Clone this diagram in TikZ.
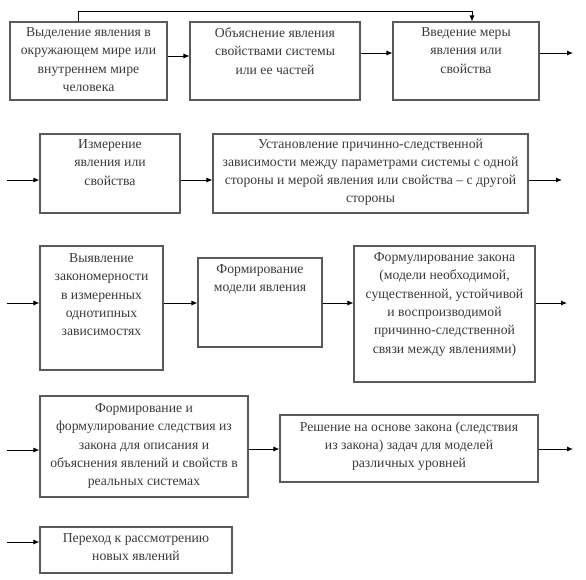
\documentclass[tikz,border=0pt]{standalone}
\usepackage{fontspec}
\setmainfont{Liberation Serif}
\usetikzlibrary{arrows.meta}
\definecolor{boxgray}{HTML}{5A5A5A}
\definecolor{textgray}{HTML}{3A3A3A}
\begin{document}
\begin{tikzpicture}[x=1pt,y=-1pt,
 box/.style={draw=boxgray, line width=1.1pt, inner sep=0pt},
 txt/.style={align=center, font=\fontsize{13.7}{18.3}\selectfont, text=textgray, inner sep=0pt, anchor=north},
 arr/.style={-{Latex[length=6pt,width=5pt]}, line width=0.9pt}]
\useasboundingbox (0,0) rectangle (586,579);
% boxes
\node[box, minimum width=157pt, minimum height=78pt] (b1) at (88.5,61) {};
\node[box, minimum width=170pt, minimum height=78pt] (b2) at (275,61) {};
\node[box, minimum width=146pt, minimum height=78pt] (b3) at (466,61) {};
\node[box, minimum width=140pt, minimum height=79pt] (b4) at (110,173.5) {};
\node[box, minimum width=315pt, minimum height=79pt] (b5) at (370.5,173.5) {};
\node[box, minimum width=123pt, minimum height=124pt] (b6) at (101.5,308) {};
\node[box, minimum width=124pt, minimum height=89pt] (b7) at (260,302.5) {};
\node[box, minimum width=181pt, minimum height=136pt] (b8) at (444.5,314) {};
\node[box, minimum width=208pt, minimum height=101pt] (b9) at (144,446.5) {};
\node[box, minimum width=258pt, minimum height=67pt] (b10) at (409,448.5) {};
\node[box, minimum width=192pt, minimum height=46pt] (b11) at (136,550) {};
% texts
\node[txt] (t1) at ([yshift=-6pt]b1.north) {Выделение явления в\\окружающем мире или\\внутреннем мире\\человека};
\node[txt] (t2) at ([yshift=-6pt]b2.north) {Объяснение явления\\свойствами системы\\или ее частей};
\node[txt] (t3) at ([yshift=-6pt]b3.north) {Введение меры\\явления или\\свойства};
\node[txt] (t4) at ([yshift=-6pt]b4.north) {Измерение\\явления или\\свойства};
\node[txt] (t5) at ([yshift=-5pt]b5.north) {Установление причинно-следственной\\зависимости между параметрами системы с одной\\стороны и мерой явления или свойства – с другой\\стороны};
\node[txt] (t6) at ([yshift=-8pt]b6.north) {Выявление\\закономерности\\в измеренных\\однотипных\\зависимостях};
\node[txt] (t7) at ([yshift=-7pt]b7.north) {Формирование\\модели явления};
\node[txt] (t8) at ([yshift=-7pt]b8.north) {Формулирование закона\\(модели необходимой,\\существенной, устойчивой\\и воспроизводимой\\причинно-следственной\\связи между явлениями)};
\node[txt] (t9) at ([yshift=-8pt]b9.north) {Формирование и\\формулирование следствия из\\закона для описания и\\объяснения явлений и свойств в\\реальных системах};
\node[txt] (t10) at ([yshift=-7pt]b10.north) {Решение на основе закона (следствия\\из закона) задач для моделей\\различных уровней};
\node[txt] (t11) at ([yshift=-7pt]b11.north) {Переход к рассмотрению\\новых явлений};
% free ends and levels
\coordinate (y1) at (0,56);
\coordinate (y1b) at (0,53);
\coordinate (y2) at (0,180);
\coordinate (y3) at (0,303);
\coordinate (y4) at (0,449);
\coordinate (y5) at (0,542);
\coordinate (o1) at (573,53);
\coordinate (i2) at (7,180);
\coordinate (o2) at (562,180);
\coordinate (i3) at (7,303);
\coordinate (o3) at (567,303);
\coordinate (i4) at (7,450);
\coordinate (o4) at (573,449);
\coordinate (i5) at (7,542);
\coordinate (top) at (0,11);
% connectors
\draw[arr] (b1.east |- y1) -- (b2.west |- y1);
\draw[arr] (b2.east |- y1b) -- (b3.west |- y1b);
\draw[arr] (b3.east |- y1b) -- (o1);
\draw[arr] ([xshift=-10pt]b1.north) -- ([xshift=-10pt]b1.north |- top) -| ([xshift=6pt]b3.north);
\draw[arr] (i2) -- (b4.west |- i2);
\draw[arr] (b4.east |- y2) -- (b5.west |- y2);
\draw[arr] (b5.east |- o2) -- (o2);
\draw[arr] (i3) -- (b6.west |- i3);
\draw[arr] (b6.east |- y3) -- (b7.west |- y3);
\draw[arr] (b7.east |- y3) -- (b8.west |- y3);
\draw[arr] (b8.east |- o3) -- (o3);
\draw[arr] (i4) -- (b9.west |- i4);
\draw[arr] (b9.east |- y4) -- (b10.west |- y4);
\draw[arr] (b10.east |- o4) -- (o4);
\draw[arr] (i5) -- (b11.west |- i5);
\end{tikzpicture}
\end{document}
